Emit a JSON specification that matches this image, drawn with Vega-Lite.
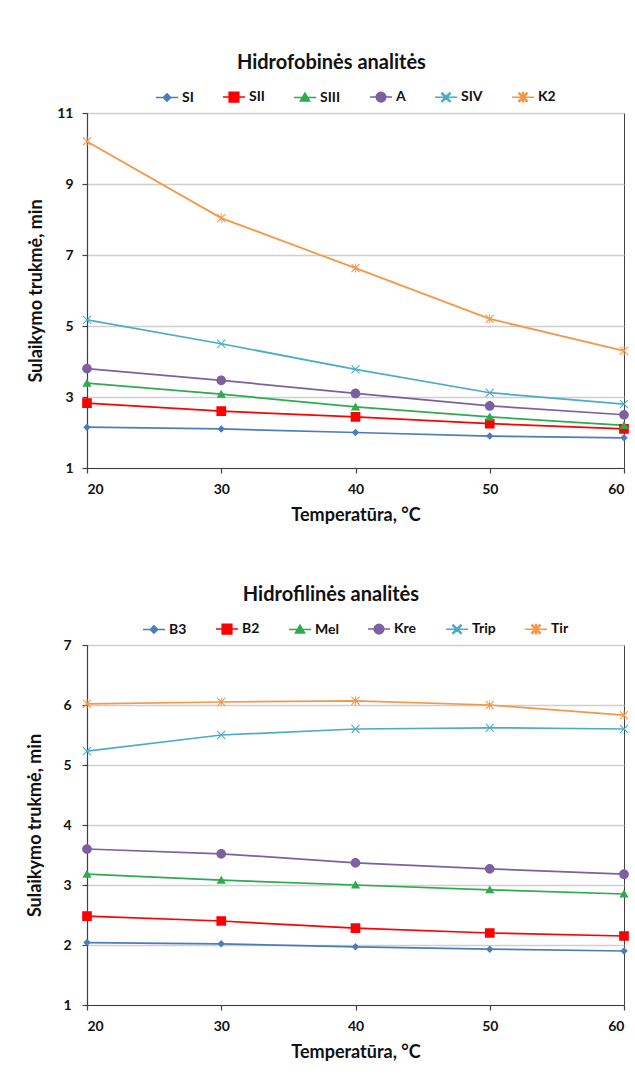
{
  "$schema": "https://vega.github.io/schema/vega-lite/v6.json",
  "background": "white",
  "padding": {"left": 26, "top": 52, "right": 4, "bottom": 4},
  "config": {
    "font": "Lato",
    "view": {"stroke": "#404040", "strokeWidth": 1},
    "axis": {
      "labelFont": "Lato", "labelFontWeight": "bold", "labelFontSize": 14, "labelColor": "#111",
      "titleFont": "Lato", "titleFontWeight": "bold", "titleFontSize": 18, "titleColor": "#111",
      "domainColor": "#404040", "tickColor": "#404040", "tickSize": 5, "domainWidth": 1.2, "tickWidth": 1.2,
      "gridColor": "#CFCFCF", "gridWidth": 1.3
    },
    "axisX": {"grid": false, "labelPadding": 9, "titlePadding": 10},
    "axisY": {"grid": true},
    "legend": {
      "orient": "top", "direction": "horizontal", "title": null,
      "labelFont": "Lato", "labelFontWeight": "bold", "labelFontSize": 14, "labelColor": "#111",
      "symbolSize": 484, "symbolStrokeWidth": 1.5, "labelOffset": 3, "columnPadding": 26, "offset": 8,
      "layout": {"top": {"anchor": "middle"}}
    },
    "title": {"font": "Lato", "fontSize": 20, "fontWeight": "bold", "color": "#111", "anchor": "middle", "frame": "bounds", "offset": 12}
  },
  "datasets": {
    "fobines": [
      {"temp": 20, "series": "SI", "t": 2.15}, {"temp": 30, "series": "SI", "t": 2.1}, {"temp": 40, "series": "SI", "t": 2.0}, {"temp": 50, "series": "SI", "t": 1.9}, {"temp": 60, "series": "SI", "t": 1.85},
      {"temp": 20, "series": "SII", "t": 2.83}, {"temp": 30, "series": "SII", "t": 2.6}, {"temp": 40, "series": "SII", "t": 2.44}, {"temp": 50, "series": "SII", "t": 2.25}, {"temp": 60, "series": "SII", "t": 2.1},
      {"temp": 20, "series": "SIII", "t": 3.39}, {"temp": 30, "series": "SIII", "t": 3.08}, {"temp": 40, "series": "SIII", "t": 2.72}, {"temp": 50, "series": "SIII", "t": 2.44}, {"temp": 60, "series": "SIII", "t": 2.2},
      {"temp": 20, "series": "A", "t": 3.8}, {"temp": 30, "series": "A", "t": 3.47}, {"temp": 40, "series": "A", "t": 3.1}, {"temp": 50, "series": "A", "t": 2.75}, {"temp": 60, "series": "A", "t": 2.5},
      {"temp": 20, "series": "SIV", "t": 5.17}, {"temp": 30, "series": "SIV", "t": 4.5}, {"temp": 40, "series": "SIV", "t": 3.78}, {"temp": 50, "series": "SIV", "t": 3.12}, {"temp": 60, "series": "SIV", "t": 2.8},
      {"temp": 20, "series": "K2", "t": 10.2}, {"temp": 30, "series": "K2", "t": 8.04}, {"temp": 40, "series": "K2", "t": 6.63}, {"temp": 50, "series": "K2", "t": 5.2}, {"temp": 60, "series": "K2", "t": 4.3}
    ],
    "filines": [
      {"temp": 20, "series": "B3", "t": 2.04}, {"temp": 30, "series": "B3", "t": 2.02}, {"temp": 40, "series": "B3", "t": 1.97}, {"temp": 50, "series": "B3", "t": 1.93}, {"temp": 60, "series": "B3", "t": 1.9},
      {"temp": 20, "series": "B2", "t": 2.48}, {"temp": 30, "series": "B2", "t": 2.4}, {"temp": 40, "series": "B2", "t": 2.28}, {"temp": 50, "series": "B2", "t": 2.2}, {"temp": 60, "series": "B2", "t": 2.15},
      {"temp": 20, "series": "Mel", "t": 3.18}, {"temp": 30, "series": "Mel", "t": 3.08}, {"temp": 40, "series": "Mel", "t": 3.0}, {"temp": 50, "series": "Mel", "t": 2.92}, {"temp": 60, "series": "Mel", "t": 2.85},
      {"temp": 20, "series": "Kre", "t": 3.6}, {"temp": 30, "series": "Kre", "t": 3.52}, {"temp": 40, "series": "Kre", "t": 3.37}, {"temp": 50, "series": "Kre", "t": 3.27}, {"temp": 60, "series": "Kre", "t": 3.18},
      {"temp": 20, "series": "Trip", "t": 5.23}, {"temp": 30, "series": "Trip", "t": 5.5}, {"temp": 40, "series": "Trip", "t": 5.6}, {"temp": 50, "series": "Trip", "t": 5.62}, {"temp": 60, "series": "Trip", "t": 5.6},
      {"temp": 20, "series": "Tir", "t": 6.02}, {"temp": 30, "series": "Tir", "t": 6.05}, {"temp": 40, "series": "Tir", "t": 6.07}, {"temp": 50, "series": "Tir", "t": 6.0}, {"temp": 60, "series": "Tir", "t": 5.83}
    ]
  },
  "columns": 1,
  "spacing": 59,
  "resolve": {
    "scale": {"color": "independent", "shape": "independent", "stroke": "independent"},
    "legend": {"color": "independent", "shape": "independent", "stroke": "independent"}
  },
  "concat": [
    {
      "width": 537,
      "height": 355,
      "title": "Hidrofobinės analitės",
      "data": {"name": "fobines"},
      "encoding": {
        "x": {"field": "temp", "type": "quantitative", "scale": {"domain": [20, 60], "nice": false, "zero": false},
              "axis": {"values": [20, 30, 40, 50, 60], "title": "Temperatūra, °C"}},
        "y": {"field": "t", "type": "quantitative", "scale": {"domain": [1, 11], "nice": false, "zero": false},
              "axis": {"values": [1, 3, 5, 7, 9, 11], "title": "Sulaikymo trukmė, min", "labelPadding": 9, "titlePadding": 11}},
        "color": {"field": "series", "type": "nominal",
                  "scale": {"domain": ["SI", "SII", "SIII", "A", "SIV", "K2"],
                            "range": ["#4A7EBB", "#FF0000", "#2EAA4F", "#7D60A0", "#4BACC6", "#F79646"]}}
      },
      "layer": [
        {"mark": {"type": "line", "strokeWidth": 1.75}},
        {
          "mark": {"type": "point", "filled": true, "opacity": 1, "size": 484, "strokeWidth": 0},
          "encoding": {
            "stroke": {"field": "series", "type": "nominal",
                       "scale": {"domain": ["SI", "SII", "SIII", "A", "SIV", "K2"],
                                 "range": ["#4A7EBB", "#FF0000", "#2EAA4F", "#7D60A0", "#4BACC6", "#F79646"]}},
            "shape": {"field": "series", "type": "nominal",
                      "scale": {"domain": ["SI", "SII", "SIII", "A", "SIV", "K2"],
                                "range": [
                                  "M-1,0H1M0,-0.34L0.34,0L0,0.34L-0.34,0Z",
                                  "M-1,0H1M-0.44,-0.44H0.44V0.44H-0.44Z",
                                  "M-1,0H1M0,-0.4L0.42,0.32H-0.42Z",
                                  "M-1,0H1M-0.44,0A0.44,0.44 0 1,0 0.44,0A0.44,0.44 0 1,0 -0.44,0Z",
                                  "M-1,0H1M-0.4,-0.33L-0.33,-0.4L0,-0.07L0.33,-0.4L0.4,-0.33L0.07,0L0.4,0.33L0.33,0.4L0,0.07L-0.33,0.4L-0.4,0.33L-0.07,0Z",
                                  "M-1,0H1M-0.4,-0.33L-0.33,-0.4L0,-0.07L0.33,-0.4L0.4,-0.33L0.07,0L0.4,0.33L0.33,0.4L0,0.07L-0.33,0.4L-0.4,0.33L-0.07,0ZM-0.04,-0.42H0.04V0.42H-0.04Z"
                                ]},
                      "legend": {"encode": {"symbols": {"update": {"strokeWidth": {"value": 1.5}}}}}}
          }
        }
      ]
    },
    {
      "width": 537,
      "height": 360,
      "title": "Hidrofilinės analitės",
      "data": {"name": "filines"},
      "encoding": {
        "x": {"field": "temp", "type": "quantitative", "scale": {"domain": [20, 60], "nice": false, "zero": false},
              "axis": {"values": [20, 30, 40, 50, 60], "title": "Temperatūra, °C"}},
        "y": {"field": "t", "type": "quantitative", "scale": {"domain": [1, 7], "nice": false, "zero": false},
              "axis": {"values": [1, 2, 3, 4, 5, 6, 7], "title": "Sulaikymo trukmė, min", "labelPadding": 11, "titlePadding": 18}},
        "color": {"field": "series", "type": "nominal",
                  "scale": {"domain": ["B3", "B2", "Mel", "Kre", "Trip", "Tir"],
                            "range": ["#4A7EBB", "#FF0000", "#2EAA4F", "#7D60A0", "#4BACC6", "#F79646"]}}
      },
      "layer": [
        {"mark": {"type": "line", "strokeWidth": 1.75}},
        {
          "mark": {"type": "point", "filled": true, "opacity": 1, "size": 484, "strokeWidth": 0},
          "encoding": {
            "stroke": {"field": "series", "type": "nominal",
                       "scale": {"domain": ["B3", "B2", "Mel", "Kre", "Trip", "Tir"],
                                 "range": ["#4A7EBB", "#FF0000", "#2EAA4F", "#7D60A0", "#4BACC6", "#F79646"]}},
            "shape": {"field": "series", "type": "nominal",
                      "scale": {"domain": ["B3", "B2", "Mel", "Kre", "Trip", "Tir"],
                                "range": [
                                  "M-1,0H1M0,-0.34L0.34,0L0,0.34L-0.34,0Z",
                                  "M-1,0H1M-0.44,-0.44H0.44V0.44H-0.44Z",
                                  "M-1,0H1M0,-0.4L0.42,0.32H-0.42Z",
                                  "M-1,0H1M-0.44,0A0.44,0.44 0 1,0 0.44,0A0.44,0.44 0 1,0 -0.44,0Z",
                                  "M-1,0H1M-0.4,-0.33L-0.33,-0.4L0,-0.07L0.33,-0.4L0.4,-0.33L0.07,0L0.4,0.33L0.33,0.4L0,0.07L-0.33,0.4L-0.4,0.33L-0.07,0Z",
                                  "M-1,0H1M-0.4,-0.33L-0.33,-0.4L0,-0.07L0.33,-0.4L0.4,-0.33L0.07,0L0.4,0.33L0.33,0.4L0,0.07L-0.33,0.4L-0.4,0.33L-0.07,0ZM-0.04,-0.42H0.04V0.42H-0.04Z"
                                ]},
                      "legend": {"encode": {"symbols": {"update": {"strokeWidth": {"value": 1.5}}}}}}
          }
        }
      ]
    }
  ]
}
